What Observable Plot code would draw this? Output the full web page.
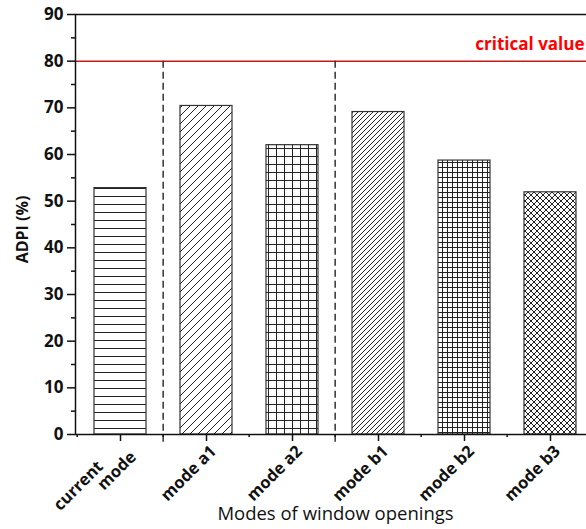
<!DOCTYPE html>
<html><head><meta charset="utf-8">
<script src="https://cdn.jsdelivr.net/npm/d3@7"></script>
<script src="https://cdn.jsdelivr.net/npm/@observablehq/plot@0.6"></script>
<style>body{margin:0;background:#fff;overflow:hidden;}</style>
</head><body><div id="chart"></div>
<script>
const categories = ["current mode", "mode a1", "mode a2", "mode b1", "mode b2", "mode b3"];
const tickLabels = ["current       \nmode", "mode a1", "mode a2", "mode b1", "mode b2", "mode b3"];
const values = [52.8, 70.4, 62.0, 69.1, 58.7, 51.9];
const patterns = ["hlines", "diagWide", "gridWide", "diagDense", "gridDense", "cross"];
const yMajorTicks = [0, 10, 20, 30, 40, 50, 60, 70, 80, 90];
const yMinorTicks = [5, 15, 25, 35, 45, 55, 65, 75, 85];
const criticalValue = 80;
const criticalLabel = "critical value";
const dividerBefore = ["mode a1", "mode b1"];
const yLabel = "ADPI (%)";
const xLabel = "Modes of window openings";

const data = categories.map((c, i) => ({category: c, value: values[i], fill: `url(#${patterns[i]})`}));
const W = 586, H = 529, mL = 75, mR = -9, mT = 14, mB = 95;
const step = (W - mL - mR) / categories.length;
const font = "'Open Sans', sans-serif";

const plot = Plot.plot({
  width: W, height: H, marginLeft: mL, marginRight: mR, marginTop: mT, marginBottom: mB,
  style: {fontFamily: font, color: "#111", background: "white", overflow: "hidden"},
  x: {domain: categories, paddingInner: 0.4, paddingOuter: 0.2},
  y: {domain: [0, 90]},
  color: {type: "identity"},
  marks: [
    Plot.barY(data, {x: "category", y: "value", fill: "fill", stroke: "#333", strokeWidth: 1.2}),
    Plot.ruleY([criticalValue], {stroke: "#ff0000", strokeWidth: 1.5}),
    Plot.ruleX(dividerBefore, {x: d => d, y1: criticalValue, y2: -2, dx: -step / 2, stroke: "#333", strokeWidth: 1.5, strokeDasharray: "7,4"}),
    Plot.frame({stroke: "#111", strokeWidth: 1.5}),
    Plot.axisY({ticks: yMajorTicks, tickSize: 8, tickPadding: 4, label: null, fontSize: 17, fontWeight: "bold", strokeWidth: 1.5}),
    Plot.axisY({ticks: yMinorTicks, tickSize: 4, text: null, label: null, strokeWidth: 1.5}),
    Plot.axisX({tickSize: 7, text: null, label: null, strokeWidth: 1.5}),
    Plot.axisX({tickSize: 0, tickPadding: 14, tickRotate: -45, label: null, dx: 7,
      tickFormat: d => tickLabels[categories.indexOf(d)], fontSize: 16.5, fontWeight: "bold"}),
    Plot.axisX({tickSize: 3, text: null, label: null, dx: -step / 2, strokeWidth: 1.5}),
    Plot.text([criticalLabel], {text: d => d, frameAnchor: "right", y: criticalValue, dx: -11, dy: -17, textAnchor: "end", fill: "#ff0000", fontSize: 17, fontWeight: "bold"}),
    Plot.text([yLabel], {text: d => d, frameAnchor: "left", textAnchor: "middle", rotate: -90, dx: -53, dy: 5, fontSize: 16, fontWeight: "bold"}),
    Plot.text([xLabel], {text: d => d, frameAnchor: "bottom", dy: 85, fontSize: 18.5, fontWeight: 500})
  ]
});

const defs = d3.select(plot).insert("defs", ":first-child");
function pat(id, s, d) {
  const p = defs.append("pattern").attr("id", id).attr("patternUnits", "userSpaceOnUse")
    .attr("width", s).attr("height", s);
  p.append("rect").attr("width", s).attr("height", s).attr("fill", "white");
  p.append("path").attr("d", d).attr("stroke", "#222").attr("stroke-width", 1).attr("fill", "none");
}
pat("hlines", 8, "M0,4.5H8");
pat("diagWide", 8, "M0,8L8,0M-2,2L2,-2M6,10L10,6");
pat("gridWide", 8, "M0,4.5H8M4.5,0V8");
pat("diagDense", 5, "M0,5L5,0M-1,1L1,-1M4,6L6,4");
pat("gridDense", 5, "M0,2.5H5M2.5,0V5");
pat("cross", 6, "M0,6L6,0M0,0L6,6M-1,1L1,-1M5,7L7,5M-1,5L1,7M5,-1L7,1");

document.getElementById("chart").appendChild(plot);
</script>
</body></html>
